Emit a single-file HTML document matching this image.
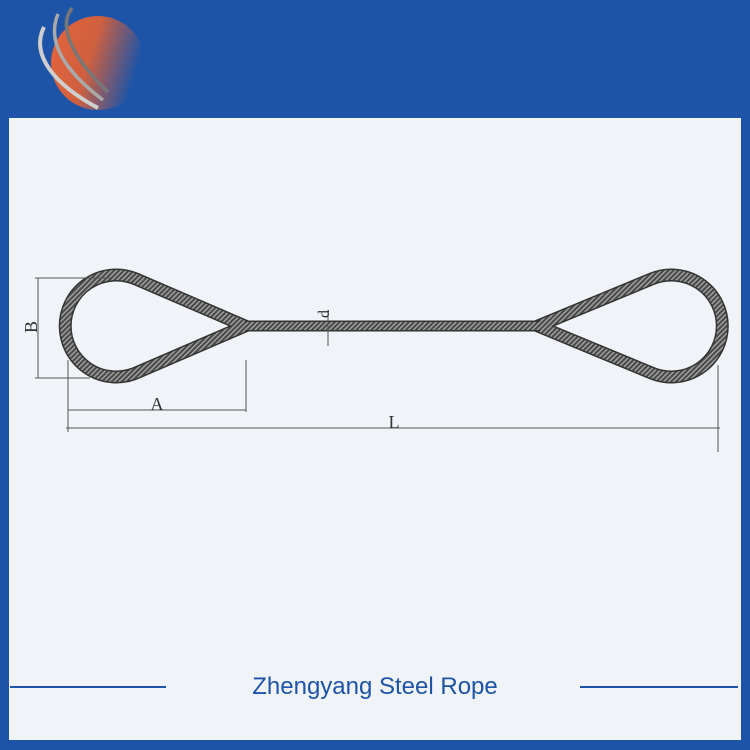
<!DOCTYPE html>
<html><head><style>
html,body{margin:0;padding:0;background:#1d54a8;}
svg{display:block}
</style></head><body>
<svg width="750" height="750" viewBox="0 0 750 750" xmlns="http://www.w3.org/2000/svg">
<defs>
<linearGradient id="og" x1="0" y1="0" x2="1" y2="0.3">
<stop offset="0" stop-color="#e4643a"/>
<stop offset="0.5" stop-color="#d0603f"/>
<stop offset="1" stop-color="#1d54a8" stop-opacity="1"/>
</linearGradient>
<pattern id="hatch" width="3.5" height="3.5" patternUnits="userSpaceOnUse" patternTransform="rotate(45)">
<rect width="3.5" height="3.5" fill="#4a4a4a"/>
<rect width="1.3" height="3.5" fill="#aaa"/>
</pattern>
</defs>
<rect width="750" height="750" fill="#1d54a8"/>
<circle cx="98" cy="63" r="47" fill="url(#og)"/>
<path d="M44,27 C30,55 55,85 98,108" stroke="#cfcfcf" stroke-width="4" fill="none"/>
<path d="M58,14 C45,45 70,75 103,100" stroke="#a9a9a9" stroke-width="3.5" fill="none"/>
<path d="M72,8 C55,30 80,65 108,92" stroke="#777" stroke-width="3.5" fill="none"/>
<rect x="9" y="118" width="732" height="622" fill="#f0f3f7"/>
<g fill="none" stroke-linejoin="round">
<path d="M245,326 L136,279 A51,51 0 1 0 136,373 Z" stroke="#333" stroke-width="13"/>
<path d="M245,326 L136,279 A51,51 0 1 0 136,373 Z" stroke="url(#hatch)" stroke-width="10"/>
<path d="M538,326 L651.5,279 A51,51 0 1 1 651.5,373 Z" stroke="#333" stroke-width="13"/>
<path d="M538,326 L651.5,279 A51,51 0 1 1 651.5,373 Z" stroke="url(#hatch)" stroke-width="10"/>
<line x1="245" y1="326" x2="540" y2="326" stroke="#333" stroke-width="11"/>
<line x1="245" y1="326" x2="540" y2="326" stroke="url(#hatch)" stroke-width="8"/>
</g>
<g stroke="#555" stroke-width="1" fill="none">
<line x1="38" y1="278" x2="38" y2="378"/>
<line x1="35" y1="278" x2="110" y2="278"/>
<line x1="35" y1="378" x2="90" y2="378"/>
<line x1="68" y1="360" x2="68" y2="432"/>
<line x1="246" y1="360" x2="246" y2="412"/>
<line x1="68" y1="410" x2="246" y2="410"/>
<line x1="66" y1="428" x2="720" y2="428"/>
<line x1="718" y1="365" x2="718" y2="452"/>
<line x1="328" y1="310" x2="328" y2="346"/>
</g>
<g font-family="Liberation Serif, serif" font-size="18" fill="#333">
<text x="157" y="410" text-anchor="middle">A</text>
<text x="394" y="428" text-anchor="middle">L</text>
<text transform="translate(37,327) rotate(-90)" text-anchor="middle">B</text>
<text transform="translate(329,314) rotate(-90)" text-anchor="middle" font-size="16">d</text>
</g>
<line x1="10" y1="687" x2="166" y2="687" stroke="#1d54a8" stroke-width="2"/>
<line x1="580" y1="687" x2="738" y2="687" stroke="#1d54a8" stroke-width="2"/>
<text x="375" y="694" text-anchor="middle" font-family="Liberation Sans, sans-serif" font-size="24" fill="#1d54a8">Zhengyang Steel Rope</text>
</svg>
</body></html>
